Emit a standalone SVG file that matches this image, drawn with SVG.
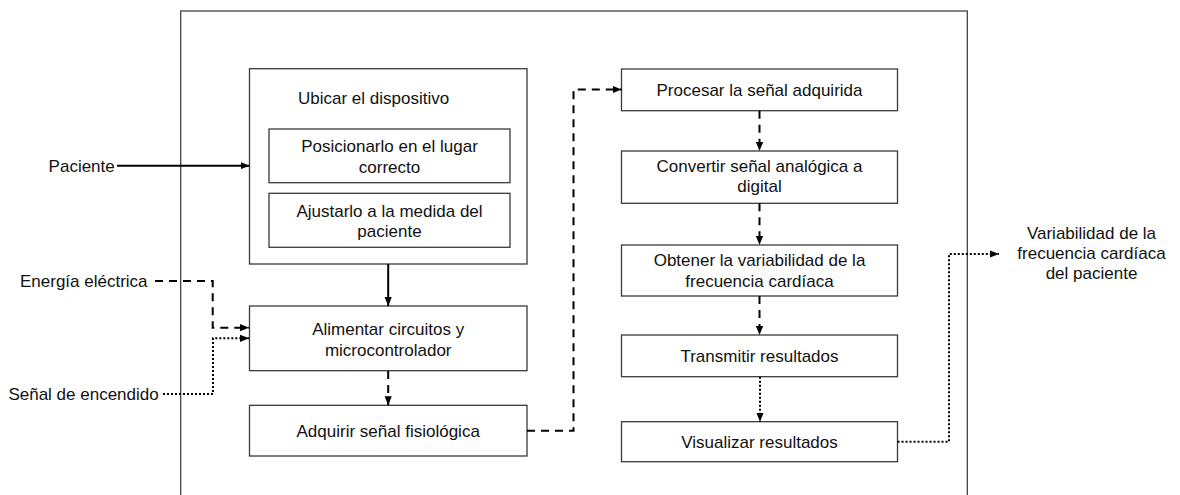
<svg xmlns="http://www.w3.org/2000/svg" width="1180" height="495" viewBox="0 0 1180 495">
<defs>
<marker id="ah" viewBox="0 0 10 8" markerWidth="9" markerHeight="7.5" refX="10" refY="4" orient="auto" markerUnits="userSpaceOnUse">
<path d="M0,0 L10,4 L0,8 z" fill="#000"/>
</marker>
</defs>
<style>
.box{fill:#fff;stroke:#3a3a3a;stroke-width:1.3}
.frame{fill:none;stroke:#333;stroke-width:1.2}
text{font-family:"Liberation Sans",Arial,sans-serif;font-size:17px;fill:#111}
.c{text-anchor:middle}
.ln{fill:none;stroke:#000;stroke-width:2}
.solid{}
.dash{stroke-dasharray:8 6}
.dot{stroke-dasharray:2 2}
</style>
<rect width="1180" height="495" fill="#fff"/>
<g id="frame"><rect class="frame" x="180.7" y="11" width="786.6" height="500"/></g>

<g id="ubicar">
<rect class="box" x="249.5" y="68.7" width="277.5" height="195.3"/>
<text x="298" y="104">Ubicar el dispositivo</text>
</g>
<g id="posicionar">
<rect class="box" x="269" y="129" width="241" height="53.7"/>
<text class="c" x="389.5" y="152">Posicionarlo en el lugar</text>
<text class="c" x="389.5" y="172.5">correcto</text>
</g>
<g id="ajustar">
<rect class="box" x="269" y="193.3" width="241" height="54"/>
<text class="c" x="389.5" y="216.5">Ajustarlo a la medida del</text>
<text class="c" x="389.5" y="237">paciente</text>
</g>
<g id="alimentar">
<rect class="box" x="249.5" y="306" width="277.5" height="64.7"/>
<text class="c" x="388.2" y="334.5">Alimentar circuitos y</text>
<text class="c" x="388.2" y="355.5">microcontrolador</text>
</g>
<g id="adquirir">
<rect class="box" x="249.5" y="405.3" width="277.5" height="50.7"/>
<text class="c" x="388.2" y="436.5">Adquirir señal fisiológica</text>
</g>
<g id="procesar">
<rect class="box" x="621.5" y="69" width="276" height="41.7"/>
<text class="c" x="759.5" y="96">Procesar la señal adquirida</text>
</g>
<g id="convertir">
<rect class="box" x="621.5" y="151" width="276" height="52.3"/>
<text class="c" x="759.5" y="171.5">Convertir señal analógica a</text>
<text class="c" x="759.5" y="191.5">digital</text>
</g>
<g id="obtener">
<rect class="box" x="621.5" y="245" width="276" height="51"/>
<text class="c" x="759.5" y="266">Obtener la variabilidad de la</text>
<text class="c" x="759.5" y="286.5">frecuencia cardíaca</text>
</g>
<g id="transmitir">
<rect class="box" x="621.5" y="335" width="276" height="41.7"/>
<text class="c" x="759.5" y="362">Transmitir resultados</text>
</g>
<g id="visualizar">
<rect class="box" x="621.5" y="421.7" width="276" height="40"/>
<text class="c" x="759.5" y="447.5">Visualizar resultados</text>
</g>

<g id="paciente"><text x="48.6" y="171.5">Paciente</text></g>
<g id="energia"><text x="20" y="286.5">Energía eléctrica</text></g>
<g id="senal"><text x="8.4" y="399.5">Señal de encendido</text></g>
<g id="salida">
<text class="c" x="1091.5" y="239">Variabilidad de la</text>
<text class="c" x="1091.5" y="259">frecuencia cardíaca</text>
<text class="c" x="1091.5" y="279">del paciente</text>
</g>

<g id="connectors">
<path class="ln" d="M117,165.7 H249.5" marker-end="url(#ah)"/>
<path class="ln" d="M388.2,264 V306" marker-end="url(#ah)"/>
<path class="ln dash" d="M155,281 H212.7 V327.7 H249" marker-end="url(#ah)"/>
<path class="ln dot" d="M163,394 H213 V338.3 H249" marker-end="url(#ah)"/>
<path class="ln dash" d="M388.2,371 V405.3" marker-end="url(#ah)"/>
<path class="ln dash" d="M527,430.7 H573.5 V89.5 H621.5" marker-end="url(#ah)"/>
<path class="ln dash" d="M759.5,110.7 V151" marker-end="url(#ah)"/>
<path class="ln dash" d="M759.5,203.3 V245" marker-end="url(#ah)"/>
<path class="ln dash" d="M759.5,296 V335" marker-end="url(#ah)"/>
<path class="ln dot" d="M760,376.7 V421.7" marker-end="url(#ah)"/>
<path class="ln dot" d="M897.5,441.7 H949 V254 H999" marker-end="url(#ah)"/>
</g>
</svg>
